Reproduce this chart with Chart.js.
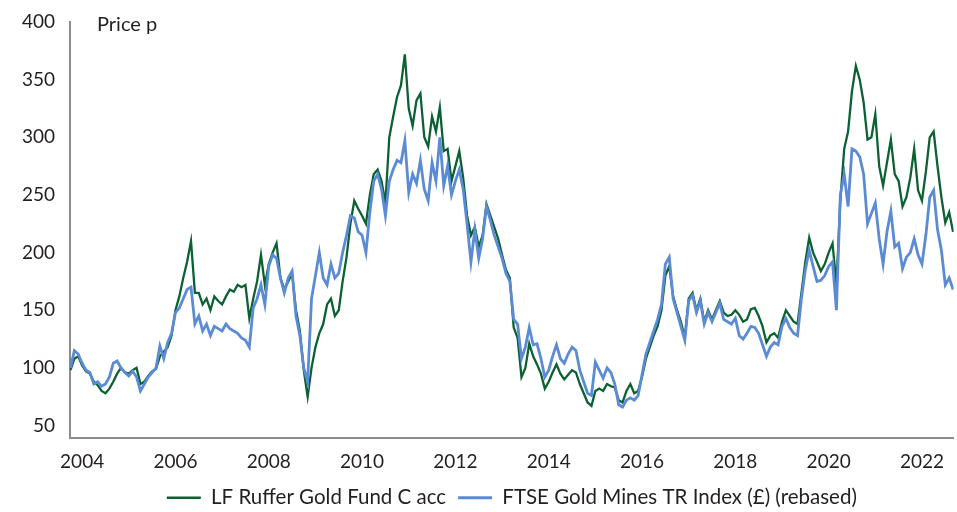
<!DOCTYPE html>
<html>
<head>
<meta charset="utf-8">
<script src="https://cdn.jsdelivr.net/npm/chart.js@4"></script>
<style>
  html, body { margin: 0; padding: 0; background: #fff; }
</style>
</head>
<body>
<canvas id="goldChart" width="957" height="512"></canvas>
<script>
// monthly closes, first point Oct 2003, last Sep 2022
const startYear = 2003.75;

const ruffer = [
  // 2003 (Oct-Dec)
  98, 108, 110,
  // 2004
  102, 97, 95, 88, 85, 80, 78, 82, 88, 95, 100, 96,
  // 2005
  95, 98, 100, 86, 88, 93, 97, 99, 110, 114, 118, 128,
  // 2006
  150, 162, 178, 192, 210, 165, 165, 155, 160, 150, 162, 158,
  // 2007
  155, 162, 168, 166, 172, 170, 172, 143, 160, 175, 198, 172,
  // 2008
  190, 200, 208, 178, 168, 175, 182, 150, 132, 98, 75, 100,
  // 2009
  118, 130, 138, 155, 160, 145, 150, 175, 196, 225, 245, 238,
  // 2010
  232, 225, 250, 268, 272, 262, 243, 300, 318, 335, 345, 372,
  // 2011
  325, 310, 332, 338, 300, 292, 318, 305, 326, 288, 290, 262,
  // 2012
  275, 288, 265, 232, 215, 222, 205, 215, 242, 232, 222, 212,
  // 2013
  198, 185, 178, 135, 126, 92, 100, 121, 110, 103, 95, 82,
  // 2014
  88, 96, 103, 95, 90, 94, 98, 96, 86, 78, 70, 67,
  // 2015
  80, 82, 80, 86, 84, 83, 72, 70, 80, 86, 78, 80,
  // 2016
  92, 108, 118, 128, 136, 150, 180, 188, 162, 150, 140, 126,
  // 2017
  160, 165, 150, 160, 140, 150, 142, 150, 158, 148, 145, 146,
  // 2018
  150, 146, 140, 142, 151, 152, 145, 136, 122, 128, 130, 126,
  // 2019
  140, 150, 145, 140, 138, 165, 192, 213, 200, 192, 184, 190,
  // 2020
  200, 208, 172, 245, 290, 305, 340, 362, 350, 330, 298, 300,
  // 2021
  320, 275, 258, 278, 298, 268, 262, 240, 248, 265, 290, 254,
  // 2022 (Jan-Sep)
  245, 270, 300, 305, 275, 248, 226, 235, 218
];

const ftseMines = [
  // 2003 (Oct-Dec)
  100, 115, 112,
  // 2004
  104, 98, 96, 86, 88, 84, 86, 92, 104, 106, 100, 96,
  // 2005
  93, 97, 92, 80, 86, 92, 96, 100, 119, 108, 122, 130,
  // 2006
  148, 152, 160, 168, 170, 138, 145, 132, 138, 128, 136, 134,
  // 2007
  132, 138, 134, 132, 130, 126, 124, 118, 152, 160, 172, 155,
  // 2008
  188, 198, 195, 178, 165, 178, 184, 145, 128, 100, 88, 160,
  // 2009
  180, 200, 178, 172, 190, 178, 182, 200, 215, 232, 230, 218,
  // 2010
  215, 200, 235, 262, 268, 255, 232, 262, 272, 280, 278, 297,
  // 2011
  252, 268, 260, 280, 255, 245, 278, 262, 300, 258, 275, 250,
  // 2012
  262, 272, 255, 225, 192, 220, 195, 212, 240, 228, 215, 205,
  // 2013
  195, 182, 175, 142, 138, 108, 118, 135, 120, 121, 108, 92,
  // 2014
  98, 110, 120, 108, 104, 112, 118, 115, 98, 88, 78, 76,
  // 2015
  105, 98, 91, 100, 96, 86, 68, 66, 72, 74, 72, 76,
  // 2016
  94, 112, 122, 132, 142, 155, 190, 196, 160, 148, 136, 124,
  // 2017
  158, 163, 148, 158, 138, 148, 140, 148, 156, 142, 140, 138,
  // 2018
  143, 128, 125, 130, 136, 135, 130, 120, 110, 118, 122, 120,
  // 2019
  136, 143, 135, 130, 128, 160, 185, 202, 188, 175, 176, 180,
  // 2020
  188, 192, 150, 250, 268, 240, 290, 288, 283, 268, 225, 234,
  // 2021
  243, 212, 190, 218, 236, 205, 208, 186, 196, 200, 212, 198,
  // 2022 (Jan-Sep)
  190, 215, 248, 254, 220, 202, 172, 178, 168
];

const xTicks = [2004, 2006, 2008, 2010, 2012, 2014, 2016, 2018, 2020, 2022];
const yTicks = [50, 100, 150, 200, 250, 300, 350, 400];

const toPoints = arr => arr.map((v, i) => ({ x: startYear + i / 12, y: v }));

const textColor = '#231f20';
const axisColor = '#8c8c8c';
const font = { family: 'Lato', size: 19 };

// "Price p" caption in the top-left corner of the plot
const priceLabel = {
  id: 'priceLabel',
  afterDraw(chart) {
    const { ctx, chartArea } = chart;
    ctx.save();
    ctx.font = '20px Lato';
    ctx.fillStyle = textColor;
    ctx.textBaseline = 'alphabetic';
    ctx.fillText('Price p', chartArea.left + 27, 31);
    ctx.restore();
  }
};

new Chart(document.getElementById('goldChart'), {
  type: 'line',
  data: {
    datasets: [
      {
        label: 'LF Ruffer Gold Fund C acc',
        data: toPoints(ruffer),
        borderColor: '#0b6131',
        backgroundColor: '#0b6131',
        borderWidth: 2.3,
        pointRadius: 0,
        tension: 0,
        order: 1,
      },
      {
        label: 'FTSE Gold Mines TR Index (£) (rebased)',
        data: toPoints(ftseMines),
        borderColor: '#5b8bd4',
        backgroundColor: '#5b8bd4',
        borderWidth: 2.8,
        pointRadius: 0,
        tension: 0,
        order: 0,
      },
    ],
  },
  options: {
    responsive: false,
    animation: false,
    layout: { padding: { top: 22, right: 0, left: 0, bottom: -6 } },
    plugins: {
      legend: {
        position: 'bottom',
        fullSize: false,
        labels: {
          usePointStyle: true,
          pointStyle: 'line',
          pointStyleWidth: 34,
          padding: 12,
          color: textColor,
          font: { family: 'Lato', size: 20.5 },
          sort: (a, b) => a.datasetIndex - b.datasetIndex,
        },
      },
      tooltip: { enabled: false },
    },
    scales: {
      x: {
        type: 'linear',
        min: 2003.74,
        max: 2022.68,
        grid: { display: false, drawTicks: false },
        border: { color: axisColor, width: 2 },
        ticks: {
          color: textColor,
          font,
          padding: 13,
          maxRotation: 0,
          callback: v => String(v),
        },
        afterBuildTicks: s => { s.ticks = xTicks.map(v => ({ value: v })); },
        afterFit: s => { s.height = 38; },
      },
      y: {
        min: 39.6,
        max: 400,
        grid: { display: false, drawTicks: false },
        border: { color: axisColor, width: 2 },
        ticks: {
          color: textColor,
          font,
          padding: 15,
          callback: v => String(v),
        },
        afterBuildTicks: s => { s.ticks = yTicks.map(v => ({ value: v })); },
        afterFit: s => {
          s.width = 70;
          s.paddingTop = 0;
          s.paddingBottom = 0;
        },
      },
    },
  },
  plugins: [priceLabel],
});
</script>
</body>
</html>
